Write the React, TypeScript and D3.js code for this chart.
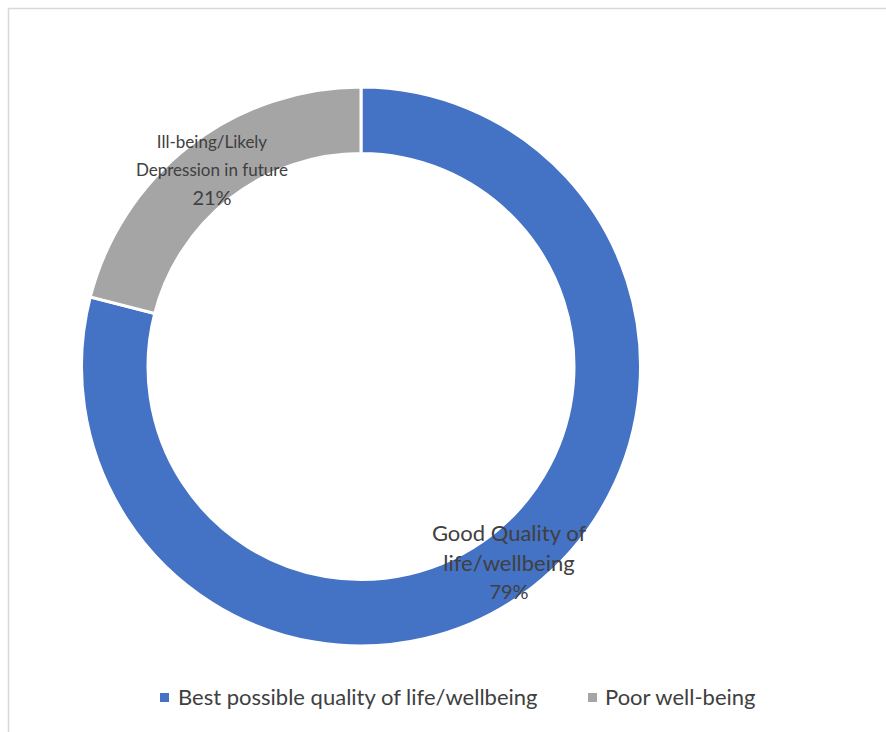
import React from "react";
import * as d3 from "d3";

const categories = ["Best possible quality of life/wellbeing", "Poor well-being"];
const values = [79, 21];
const colors = ["#4472C4", "#A5A5A5"];
const labelLines = [["Good Quality of", "life/wellbeing"], ["Ill-being/Likely", "Depression in future"]];
const pctLabels = ["79%", "21%"];

export default function App() {
  const W = 886, H = 732;
  const cx = 361, cy = 366.5, rOuter = 279.5, rInner = 213;
  const pie = d3.pie<number>().sort(null).startAngle(0).endAngle(2 * Math.PI);
  const arcs = pie(values);
  const arc = d3.arc<d3.PieArcDatum<number>>().innerRadius(rInner).outerRadius(rOuter);
  const font = "Lato, 'Open Sans', sans-serif";
  const textColor = "#404040";

  const labelPos = [
    { x: 509, y: 541, size1: 22, size2: 20, step: 30, pctStep: 29 },
    { x: 212, y: 148, size1: 17, size2: 20, step: 28, pctStep: 28.5 },
  ];

  return (
    <svg width={W} height={H} style={{ position: "absolute", left: 0, top: 0, background: "#fff" }}>
      <rect x={8.5} y={8.5} width={W + 10} height={H + 10} fill="#fff" stroke="#d9d9d9" strokeWidth={1.5} />
      <g transform={`translate(${cx},${cy})`}>
        {arcs.map((a, i) => (
          <path key={i} d={arc(a) || ""} fill={colors[i]} stroke="#fff" strokeWidth={3} />
        ))}
      </g>
      {labelPos.map((p, i) => (
        <text key={i} textAnchor="middle" fill={textColor} fontFamily={font}>
          {labelLines[i].map((l, j) => (
            <tspan key={j} x={p.x} y={p.y + j * p.step} fontSize={p.size1}>{l}</tspan>
          ))}
          <tspan x={p.x} y={p.y + labelLines[i].length * p.pctStep} fontSize={p.size2}>{pctLabels[i]}</tspan>
        </text>
      ))}
      <g fontFamily={font} fontSize={22} fill={textColor}>
        <rect x={160} y={693} width={9} height={9} fill={colors[0]} />
        <text x={178} y={705}>{categories[0]}</text>
        <rect x={588} y={693} width={9} height={9} fill={colors[1]} />
        <text x={605} y={705}>{categories[1]}</text>
      </g>
    </svg>
  );
}
